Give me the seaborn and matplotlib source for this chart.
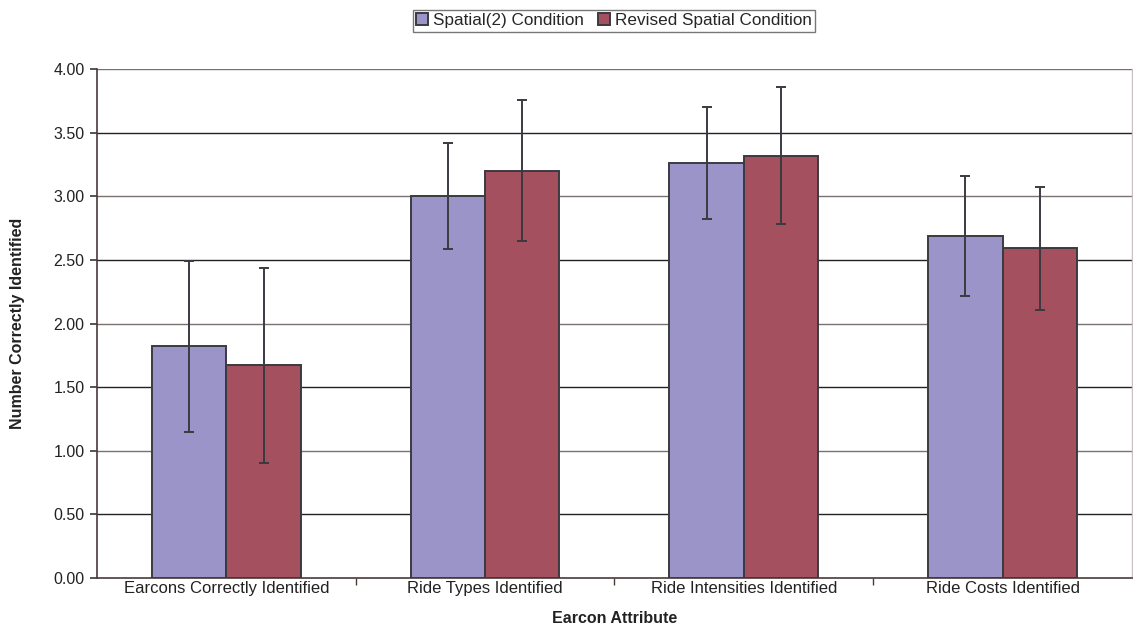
import numpy as np
import pandas as pd
import seaborn as sns
import matplotlib.pyplot as plt
from matplotlib.ticker import FixedLocator

# Data
categories = ["Earcons Correctly Identified", "Ride Types Identified",
              "Ride Intensities Identified", "Ride Costs Identified"]
conditions = ["Spatial(2) Condition", "Revised Spatial Condition"]
spatial2_mean = [1.82, 3.00, 3.26, 2.69]
spatial2_err = [0.67, 0.415, 0.44, 0.47]
revised_mean = [1.67, 3.20, 3.32, 2.59]
revised_err = [0.77, 0.555, 0.54, 0.48]

df = pd.DataFrame({
    "attribute": categories * 2,
    "condition": [conditions[0]] * 4 + [conditions[1]] * 4,
    "value": spatial2_mean + revised_mean,
})
errors = [spatial2_err, revised_err]

sns.set_theme(style="white")
plt.rcParams["font.family"] = ["Liberation Sans", "DejaVu Sans"]

fig = plt.figure(figsize=(11.33, 6.25), dpi=100)
ax = fig.add_axes([0.0856, 0.0752, 0.9135, 0.8144])

palette = ["#9A94C8", "#A5505E"]
sns.barplot(data=df, x="attribute", y="value", hue="condition", order=categories,
            hue_order=conditions, palette=palette, width=0.575, saturation=1,
            edgecolor="#3a3a40", linewidth=1.4, errorbar=None, ax=ax, zorder=3)

# error bars centred on each bar
for cont, err in zip(ax.containers, errors):
    xs = [b.get_x() + b.get_width() / 2 for b in cont]
    ys = [b.get_height() for b in cont]
    ax.errorbar(xs, ys, yerr=err, fmt="none", ecolor="#3a3a40", elinewidth=1.4,
                capsize=3.5, capthick=1.4, zorder=4)

ax.set_ylim(0, 4)
ax.set_xlim(-0.5, 3.5)
ax.set_yticks(np.arange(0, 4.01, 0.5))
ax.set_yticklabels([f"{v:.2f}" for v in np.arange(0, 4.01, 0.5)], fontsize=11.5, color="#222222")
ax.set_xticks(range(4))
ax.set_xticklabels(categories, fontsize=12, color="#222222")
ax.xaxis.set_minor_locator(FixedLocator([0.5, 1.5, 2.5]))
ax.tick_params(axis="x", which="major", length=0, pad=2)
ax.tick_params(axis="x", which="minor", length=5, color="#4a3a3a", direction="out", bottom=True)
ax.tick_params(axis="y", length=5, color="#4a3a3a", direction="out", left=True, pad=4)

for y in np.arange(0.5, 4.01, 0.5):
    ax.axhline(y, color="#222222" if y % 1 else "#7a7070", lw=1.0, zorder=1)

for side in ["left", "bottom"]:
    ax.spines[side].set_color("#4a3a3a")
    ax.spines[side].set_linewidth(1.2)
ax.spines["top"].set_visible(False)
ax.spines["right"].set_color("#c8c0c0")
ax.spines["right"].set_linewidth(1.0)

ax.set_xlabel("Earcon Attribute", fontsize=11.5, fontweight="bold", color="#222222", labelpad=11)
ax.set_ylabel("Number Correctly Identified", fontsize=11.5, fontweight="bold", color="#222222", labelpad=20)

ax.legend(loc="center", bbox_to_anchor=(614 / 1133, 0.967), bbox_transform=fig.transFigure, ncol=2,
          fontsize=12.3, frameon=True, fancybox=False, edgecolor="#555555", handlelength=0.7,
          handleheight=0.7, handletextpad=0.3, columnspacing=0.8, borderpad=0.2,
          borderaxespad=0)
ax.get_legend().get_frame().set_linewidth(1.0)

fig.savefig("out.png", dpi=100)
